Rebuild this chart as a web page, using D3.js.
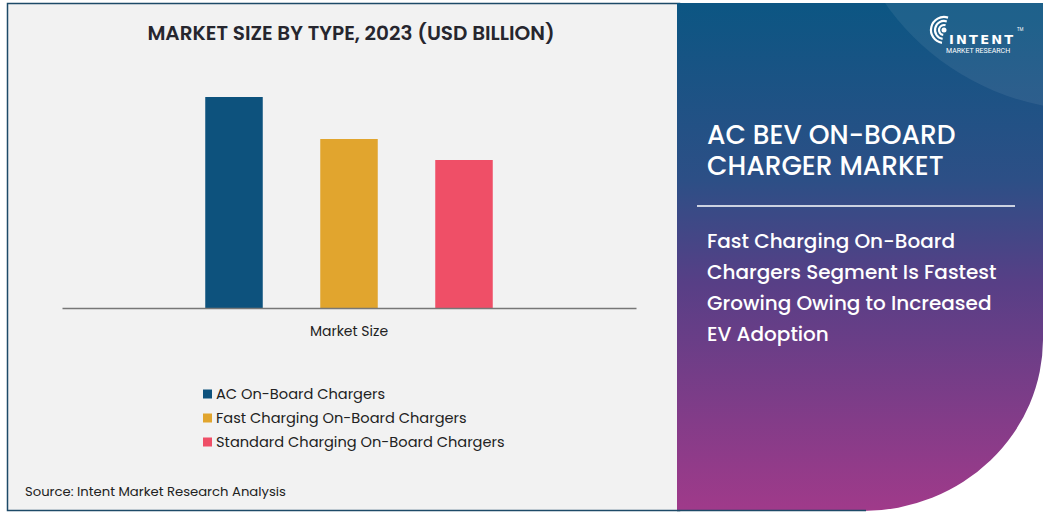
<!DOCTYPE html>
<html><head><meta charset="utf-8">
<script src="https://cdn.jsdelivr.net/npm/d3@7/dist/d3.min.js"></script>
<style>html,body{margin:0;padding:0;background:#fff;}svg{display:block;}</style>
</head><body>
<svg id="c" width="1043" height="513"></svg>
<script>
const categories = ["AC On-Board Chargers", "Fast Charging On-Board Chargers", "Standard Charging On-Board Chargers"];
const values = [2.11, 1.69, 1.48];
const colors = ["#0d527d", "#e1a52e", "#ef4f67"];
const groupLabel = "Market Size";
const title = "MARKET SIZE BY TYPE, 2023 (USD BILLION)";
const sideTitle = ["AC BEV ON-BOARD", "CHARGER MARKET"];
const sideText = ["Fast Charging On-Board", "Chargers Segment Is Fastest", "Growing Owing to Increased", "EV Adoption"];
const source = "Source: Intent Market Research Analysis";

const svg = d3.select("#c");
const font = "Poppins, 'Open Sans', 'Noto Sans', sans-serif";
const defs = svg.append("defs");
const g1 = defs.append("linearGradient").attr("id","side").attr("x1",0).attr("y1",0).attr("x2",0).attr("y2",1);
[[0,"#0c5683"],[0.35,"#2d4f86"],[0.55,"#573f86"],[1,"#a03a8a"]].forEach(s=>g1.append("stop").attr("offset",s[0]).attr("stop-color",s[1]));

// left panel
svg.append("rect").attr("x",7.5).attr("y",3.5).attr("width",672).attr("height",507).attr("fill","#f2f2f2").attr("stroke","#1d4a68").attr("stroke-width",1.5);
// right panel
svg.append("rect").attr("x",677).attr("y",3).attr("width",366).attr("height",508).attr("fill","url(#side)");
svg.append("circle").attr("cx",1090).attr("cy",-140).attr("r",250).attr("fill","#ffffff").attr("opacity",0.07);
svg.append("path").attr("d","M1043,338 A180,172 0 0,1 863,511 L1043,513 Z").attr("fill","#ffffff");
svg.append("line").attr("x1",677).attr("x2",866).attr("y1",510.5).attr("y2",510.5).attr("stroke","#1d4a68").attr("stroke-width",1.5);

// chart
const x = d3.scaleBand().domain(categories).range([176.5,521.5]).paddingInner(0.5).paddingOuter(0.25);
const y = d3.scaleLinear().domain([0,2.5]).range([308,58]);
svg.append("g").selectAll("rect").data(categories).join("rect")
  .attr("x",d=>x(d)).attr("width",x.bandwidth())
  .attr("y",(d,i)=>y(values[i])).attr("height",(d,i)=>y(0)-y(values[i]))
  .attr("fill",(d,i)=>colors[i]);
const xAxis = svg.append("g").attr("transform","translate(0,308)").call(d3.axisBottom(d3.scaleLinear().range([62,636])).ticks(0).tickSize(0).tickFormat(""));
xAxis.select(".domain").attr("stroke","#777").attr("stroke-width",1.5);
svg.append("text").attr("x",349).attr("y",336).attr("text-anchor","middle").attr("font-family",font).attr("font-size",14).attr("fill","#222").text(groupLabel);

svg.append("text").attr("x",351).attr("y",40).attr("text-anchor","middle").attr("font-family",font).attr("font-weight",600).attr("font-size",20).attr("fill","#26262e").text(title);

const leg = svg.append("g").selectAll("g").data(categories).join("g").attr("transform",(d,i)=>`translate(203,${389.5+i*24})`);
leg.append("rect").attr("width",9).attr("height",9).attr("fill",(d,i)=>colors[i]);
leg.append("text").attr("x",13).attr("y",9.5).attr("font-family",font).attr("font-size",14.6).attr("fill","#222").text(d=>d);

svg.append("text").attr("x",25).attr("y",496).attr("font-family",font).attr("font-size",13.2).attr("fill","#222").text(source);

// side text
const st = svg.append("text").attr("font-family",font).attr("font-weight",500).attr("font-size",26.5).attr("fill","#fff");
st.selectAll("tspan").data(sideTitle).join("tspan").attr("x",707).attr("y",(d,i)=>144+i*31).text(d=>d);
svg.append("line").attr("x1",697).attr("x2",1015).attr("y1",206).attr("y2",206).attr("stroke","#fff").attr("stroke-width",1.5);
svg.append("g").selectAll("text").data(sideText).join("text").attr("x",707).attr("y",(d,i)=>248+i*31).attr("font-family",font).attr("font-weight",500).attr("font-size",20).attr("fill","#fff").text(d=>d);

// logo
const lg = svg.append("g").attr("fill","none").attr("stroke","#fff").attr("stroke-width",2.2);
[5,9,13].forEach(r=>lg.append("path").attr("d",d3.arc()({innerRadius:r,outerRadius:r,startAngle:-Math.PI*0.95,endAngle:Math.PI*0.1})).attr("transform","translate(944,30)"));
svg.append("circle").attr("cx",944).attr("cy",30).attr("r",2.5).attr("fill","#fff");
svg.append("text").attr("x",949).attr("y",44).attr("font-family","'DejaVu Sans', sans-serif").attr("font-weight",700).attr("font-size",13).attr("letter-spacing",2.2).attr("fill","#fff").text("INTENT");
svg.append("text").attr("x",1017).attr("y",31).attr("font-family",font).attr("font-size",4.5).attr("fill","#fff").text("TM");
svg.append("text").attr("x",946).attr("y",53).attr("font-family","Roboto, sans-serif").attr("font-size",7).attr("fill","#fff").text("MARKET RESEARCH");
</script>
</body></html>
